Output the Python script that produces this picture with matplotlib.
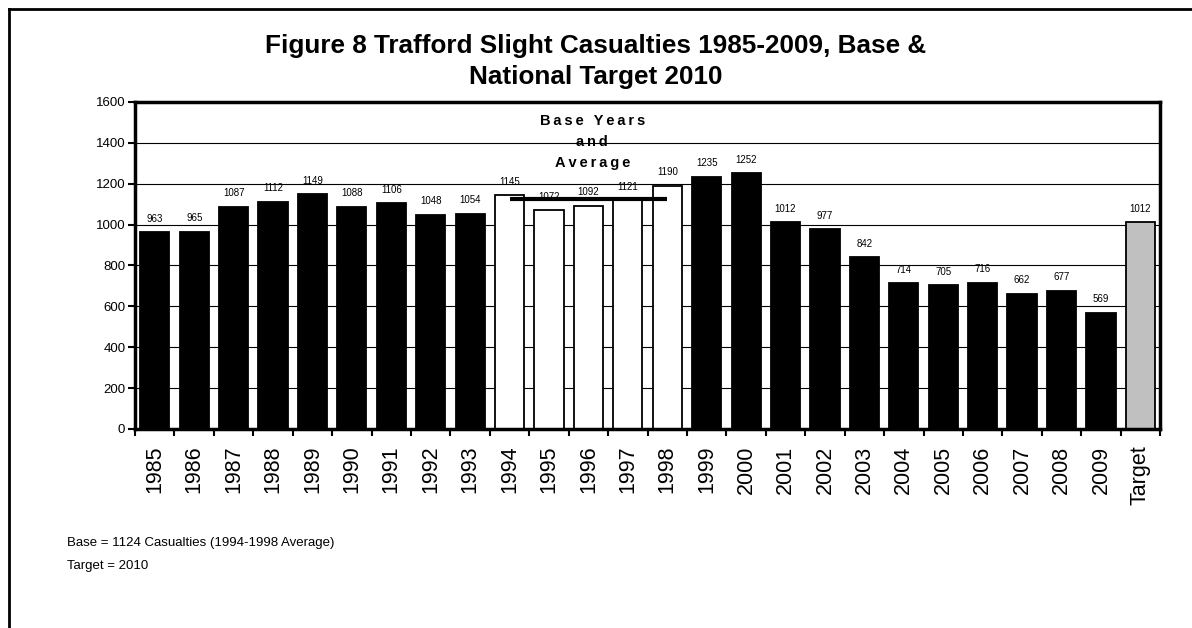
import matplotlib.pyplot as plt
from matplotlib.lines import Line2D

# data
categories = ['1985', '1986', '1987', '1988', '1989', '1990', '1991', '1992', '1993',
              '1994', '1995', '1996', '1997', '1998', '1999', '2000', '2001', '2002',
              '2003', '2004', '2005', '2006', '2007', '2008', '2009', 'Target']
values = [963, 965, 1087, 1112, 1149, 1088, 1106, 1048, 1054,
          1145, 1072, 1092, 1121, 1190, 1235, 1252, 1012, 977,
          842, 714, 705, 716, 662, 677, 569, 1012]
base_years = ['1994', '1995', '1996', '1997', '1998']
base_average = 1124

plt.rcParams['font.family'] = ['Liberation Sans', 'DejaVu Sans']

fig = plt.figure(figsize=(11.92, 6.28), dpi=100)
ax = fig.add_axes([0.1133, 0.3169, 0.9732 - 0.1133, 0.8376 - 0.3169])

x = list(range(len(categories)))
colors = []
for c in categories:
    if c in base_years:
        colors.append('white')
    elif c == 'Target':
        colors.append('#c0c0c0')
    else:
        colors.append('black')

ax.bar(x, values, width=0.74, color=colors, edgecolor='black', linewidth=1.3, zorder=3)

# data labels
for xi, v in zip(x, values):
    ax.annotate(str(v), (xi, v), xytext=(0, 6), textcoords='offset points',
                ha='center', va='bottom', fontsize=7, zorder=5)

# base average line across base years
i0 = categories.index(base_years[0])
i1 = categories.index(base_years[-1])
ax.plot([i0, i1], [base_average, base_average], color='black', lw=3, zorder=4,
        solid_capstyle='butt')

def spaced(s):
    # rough letter spacing like the original
    return '\u2009'.join(s)

ax.text(11.1, 1404, spaced('Base Years') + '\n' + spaced('and') + '\n' + spaced('Average'),
        ha='center', va='center', fontsize=10.5, fontweight='bold', linespacing=1.65, zorder=5)

ax.set_xlim(-0.5, len(categories) - 0.5)
ax.set_ylim(0, 1600)
ax.set_yticks(range(0, 1601, 200))
ax.yaxis.grid(True, color='black', lw=0.8, zorder=0)

# ticks between categories, labels in the middle
ax.set_xticks([i - 0.5 for i in range(len(categories) + 1)])
ax.set_xticklabels([])
ax.set_xticks(x, minor=True)
ax.set_xticklabels(categories, minor=True, rotation=90, fontsize=15.5)
ax.tick_params(axis='x', which='minor', length=0, pad=12)
ax.tick_params(axis='x', which='major', length=5, width=1.5, direction='out')
ax.tick_params(axis='y', length=5, width=1.5, direction='out', labelsize=9.5, pad=2)

for s in ax.spines.values():
    s.set_linewidth(2.5)
    s.set_zorder(6)

fig.text(0.5, 1 - 84 / 628, 'Figure 8 Trafford Slight Casualties 1985-2009, Base &\nNational Target 2010',
         ha='center', va='baseline', fontsize=18.8, fontweight='bold', linespacing=1.35)

fig.text(67 / 1192, 1 - 543 / 628, 'Base = 1124 Casualties (1994-1998 Average)', fontsize=9.5, va='center')
fig.text(67 / 1192, 1 - 566 / 628, 'Target = 2010', fontsize=9.5, va='center')

# outer chart frame (cut off at right and bottom)
fig.add_artist(Line2D([9 / 1192, 1.0], [1 - 9 / 628, 1 - 9 / 628], color='black', lw=2,
                      transform=fig.transFigure))
fig.add_artist(Line2D([9 / 1192, 9 / 1192], [0, 1 - 9 / 628], color='black', lw=2,
                      transform=fig.transFigure))

fig.savefig('out.png', dpi=100)
